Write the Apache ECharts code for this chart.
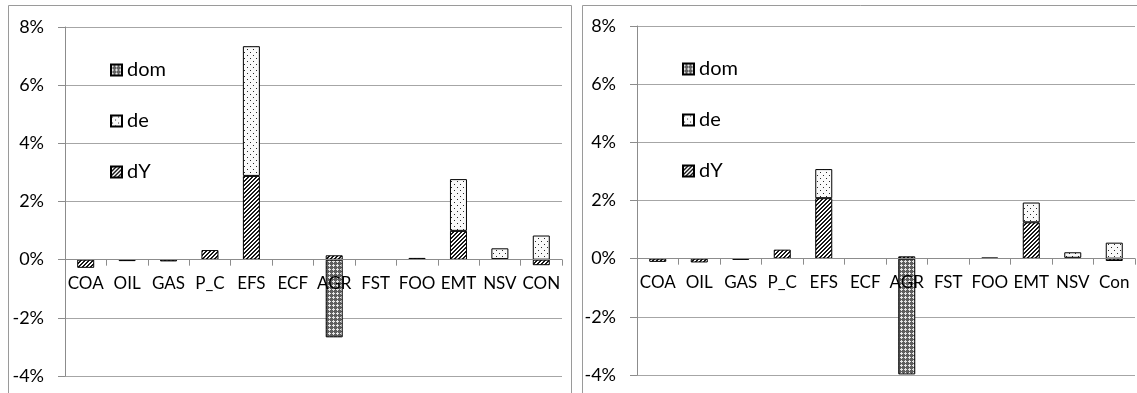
<!DOCTYPE html>
<html>
<head>
<meta charset="utf-8">
<script src="https://cdn.jsdelivr.net/npm/echarts@6/dist/echarts.min.js"></script>
<style>
  html, body { margin: 0; padding: 0; background: #fff; }
  #chart { width: 1137px; height: 393px; }
</style>
</head>
<body>
<div id="chart"></div>
<script>
// Sector categories for each panel
const categoriesLeft  = ['COA', 'OIL', 'GAS', 'P_C', 'EFS', 'ECF', 'AGR', 'FST', 'FOO', 'EMT', 'NSV', 'CON'];
const categoriesRight = ['COA', 'OIL', 'GAS', 'P_C', 'EFS', 'ECF', 'AGR', 'FST', 'FOO', 'EMT', 'NSV', 'Con'];

// Contributions in percent (null = no bar)
const dYLeft   = [-0.28, -0.05, -0.06, 0.33, 2.88, null, 0.15, null, 0.06, 0.99, 0.02, -0.19];
const deLeft   = [null, null, null, null, 4.46, null, null, null, null, 1.78, 0.37, 0.83];
const domLeft  = [null, null, null, null, null, null, -2.67, null, null, null, null, null];

const dYRight  = [-0.11, -0.13, -0.04, 0.31, 2.08, null, 0.08, null, 0.04, 1.25, 0.03, -0.08];
const deRight  = [null, null, null, null, 1.00, null, null, null, null, 0.68, 0.19, 0.55];
const domRight = [null, null, null, null, null, null, -3.98, null, null, null, null, null];

// Y axis ticks
const yTicks = { min: -4, max: 8, interval: 2 };
const legendOrder = ['dom', 'de', 'dY'];

// Pixel fill patterns for the three components
function patternCanvas(size, fn) {
  const c = document.createElement('canvas');
  c.width = size; c.height = size;
  const ctx = c.getContext('2d');
  const img = ctx.createImageData(size, size);
  for (let y = 0; y < size; y++) {
    for (let x = 0; x < size; x++) {
      const v = fn(x, y);
      const i = (y * size + x) * 4;
      img.data[i] = v; img.data[i + 1] = v; img.data[i + 2] = v; img.data[i + 3] = 255;
    }
  }
  ctx.putImageData(img, 0, 0);
  return c;
}
const hatch = patternCanvas(4, (x, y) => ((x + y) % 4 < 2 ? 25 : 255));
const dots = patternCanvas(6, (x, y) => ((x === 1 && y === 1) || (x === 4 && y === 4) ? 40 : 250));
const diamond = [
  [1, 0, 1, 1],
  [0, 0, 0, 1],
  [1, 0, 1, 1],
  [1, 1, 1, 1]
];
const checker = patternCanvas(4, (x, y) => (diamond[y][x] ? 95 : 230));

const fills = {
  dY: { image: hatch, repeat: 'repeat' },
  de: { image: dots, repeat: 'repeat' },
  dom: { image: checker, repeat: 'repeat' }
};

const font = 'Lato, "Open Sans", sans-serif';
const textColor = '#000';

// Plot areas (the category axis sits on the zero line of the value axis)
const grids = [
  { left: 65, right: 575, top: 27, bottom: 17 },
  { left: 637, right: 2, top: 26, bottom: 18 }
];
const chartHeight = 393;
function zeroOffset(g) {
  const h = chartHeight - g.top - g.bottom;
  return -h * (0 - yTicks.min) / (yTicks.max - yTicks.min);
}

function makeX(idx, cats) {
  return {
    type: 'category', gridIndex: idx, data: cats, z: 5,
    position: 'bottom', offset: zeroOffset(grids[idx]),
    axisLine: { onZero: false, lineStyle: { color: '#8c8c8c', width: 1 } },
    axisTick: { show: true, length: 6, lineStyle: { color: '#8c8c8c' } },
    axisLabel: { color: textColor, fontSize: 17, fontFamily: font, margin: 15, interval: 0 },
    splitLine: { show: false }
  };
}
function makeY(idx) {
  return {
    type: 'value', gridIndex: idx, min: yTicks.min, max: yTicks.max, interval: yTicks.interval,
    axisLine: { show: true, lineStyle: { color: '#8c8c8c', width: 1 } },
    axisTick: { show: true, length: 7, lineStyle: { color: '#8c8c8c' } },
    axisLabel: { color: textColor, fontSize: 18, fontFamily: font, margin: 21, formatter: '{value}%' },
    splitLine: { show: true, lineStyle: { color: '#a6a6a6', width: 1 } }
  };
}
function makeSeries(name, data, idx, stack) {
  return {
    type: 'bar', name: name, data: data, stack: stack,
    xAxisIndex: idx, yAxisIndex: idx, barWidth: 17,
    itemStyle: { color: fills[name], borderColor: '#000', borderWidth: 1 },
    emphasis: { disabled: true }
  };
}
function makeLegend(left, top) {
  return {
    data: legendOrder, orient: 'vertical', left: left, top: top,
    icon: 'rect', itemWidth: 11, itemHeight: 11, itemGap: 31,
    textStyle: { color: textColor, fontSize: 20, fontFamily: font, lineHeight: 20 },
    selectedMode: false
  };
}

const chart = echarts.init(document.getElementById('chart'), null, { renderer: 'canvas' });
chart.setOption({
  animation: false,
  backgroundColor: '#fff',
  graphic: [
    { type: 'rect', shape: { x: 8.5, y: 5.5, width: 563, height: 400 }, style: { fill: 'none', stroke: '#9a9a9a', lineWidth: 1 }, z: -1 },
    { type: 'rect', shape: { x: 582.5, y: 5.5, width: 570, height: 400 }, style: { fill: 'none', stroke: '#9a9a9a', lineWidth: 1 }, z: -1 }
  ],
  legend: [makeLegend(105, 55), makeLegend(677, 54)],
  grid: grids,
  xAxis: [makeX(0, categoriesLeft), makeX(1, categoriesRight)],
  yAxis: [makeY(0), makeY(1)],
  series: [
    makeSeries('dY', dYLeft, 0, 'left'),
    makeSeries('de', deLeft, 0, 'left'),
    makeSeries('dom', domLeft, 0, 'left'),
    makeSeries('dY', dYRight, 1, 'right'),
    makeSeries('de', deRight, 1, 'right'),
    makeSeries('dom', domRight, 1, 'right')
  ]
});
</script>
</body>
</html>
